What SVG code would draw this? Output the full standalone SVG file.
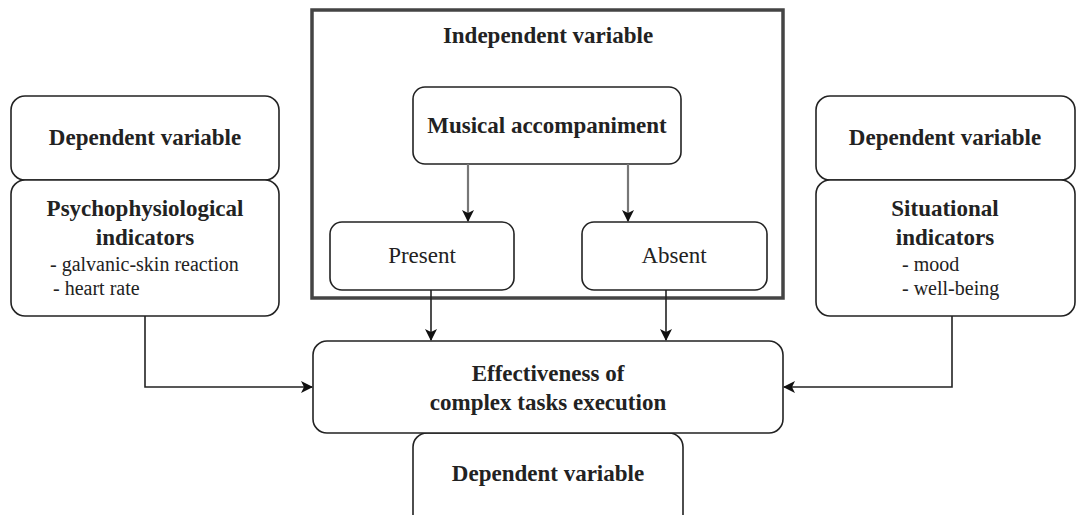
<svg xmlns="http://www.w3.org/2000/svg" width="1076" height="515" viewBox="0 0 1076 515">
<defs>
<marker id="ah" viewBox="0 0 12 12" refX="11" refY="6" markerWidth="12" markerHeight="12" markerUnits="userSpaceOnUse" orient="auto">
<path d="M0,0 L12,6 L0,12 L3,6 Z" fill="#111"/>
</marker>
</defs>
<style>
.box{fill:#fff;stroke:#222;stroke-width:1.6}
.b{font-family:"Liberation Serif","Times New Roman",serif;font-weight:bold;font-size:23px;fill:#222;text-anchor:middle}
.r{font-family:"Liberation Serif","Times New Roman",serif;font-size:23px;fill:#222;text-anchor:middle}
.l{font-family:"Liberation Serif","Times New Roman",serif;font-size:20px;fill:#222}
.c{fill:none;stroke:#222;stroke-width:1.6}
.g{fill:none;stroke:#777;stroke-width:2.2}
</style>
<rect width="1076" height="515" fill="#fff"/>
<g id="independent">
<rect x="312" y="10" width="471" height="288" fill="#fff" stroke="#444" stroke-width="3.5"/>
<text class="b" x="548" y="43">Independent variable</text>
</g>
<g id="left-dep">
<rect class="box" x="11" y="96" width="268" height="84" rx="14"/>
<text class="b" x="145" y="145">Dependent variable</text>
</g>
<g id="left-ind">
<rect class="box" x="11" y="180" width="268" height="136" rx="14"/>
<text class="b" x="145" y="216">Psychophysiological</text>
<text class="b" x="145" y="245">indicators</text>
<text class="l" x="50" y="271">- galvanic-skin reaction</text>
<text class="l" x="53" y="295">- heart rate</text>
</g>
<g id="right-dep">
<rect class="box" x="816" y="96" width="259" height="84" rx="14"/>
<text class="b" x="945" y="145">Dependent variable</text>
</g>
<g id="right-ind">
<rect class="box" x="816" y="180" width="259" height="136" rx="14"/>
<text class="b" x="945" y="216">Situational</text>
<text class="b" x="945" y="245">indicators</text>
<text class="l" x="902" y="271">- mood</text>
<text class="l" x="902" y="295">- well-being</text>
</g>
<g id="music">
<rect class="box" x="413" y="87" width="268" height="77" rx="12"/>
<text class="b" x="547" y="133">Musical accompaniment</text>
</g>
<g id="present">
<rect class="box" x="330" y="222" width="184" height="68" rx="12"/>
<text class="r" x="422" y="263">Present</text>
</g>
<g id="absent">
<rect class="box" x="582" y="222" width="185" height="68" rx="12"/>
<text class="r" x="674" y="263">Absent</text>
</g>
<g id="bottom-dep">
<rect class="box" x="413" y="433" width="270" height="100" rx="14"/>
<text class="b" x="548" y="481">Dependent variable</text>
</g>
<g id="effect">
<rect class="box" x="313" y="341" width="470" height="92" rx="14"/>
<text class="b" x="548" y="381">Effectiveness of</text>
<text class="b" x="548" y="410">complex tasks execution</text>
</g>
<g id="connectors">
<path class="g" d="M468,164 V221" marker-end="url(#ah)"/>
<path class="g" d="M628,164 V221" marker-end="url(#ah)"/>
<path class="c" d="M431,290 V340" marker-end="url(#ah)"/>
<path class="c" d="M666,290 V340" marker-end="url(#ah)"/>
<path class="c" d="M145,316 V387 H312" marker-end="url(#ah)"/>
<path class="c" d="M952,316 V387 H784" marker-end="url(#ah)"/>
</g>
</svg>
